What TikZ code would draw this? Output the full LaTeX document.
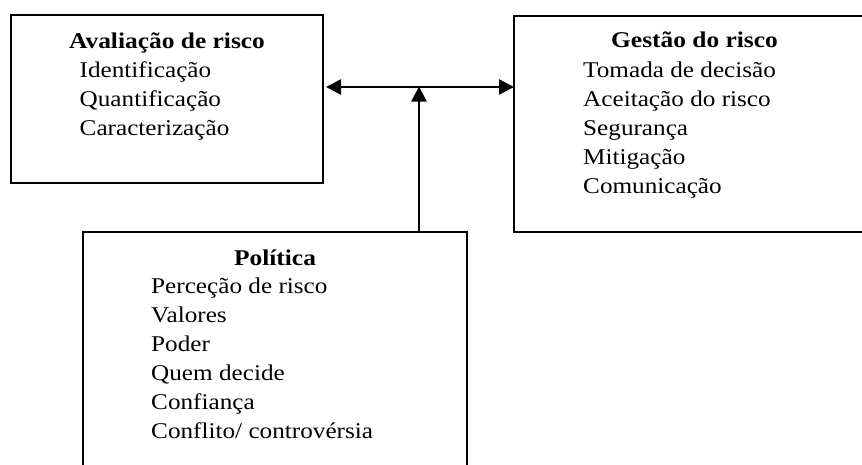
\documentclass[tikz,border=0pt]{standalone}
\usepackage{fontspec}
\setmainfont{Liberation Serif}
\usetikzlibrary{arrows.meta}
\newcommand\wide[1]{\scalebox{1.12}[1]{#1}}
\newcommand\widet[1]{\scalebox{1.13}[1]{#1}}
\newcommand\diagfont{\fontsize{22.5}{29}\selectfont}
\tikzset{
  box/.style={draw=black, line width=1.5pt, rectangle, inner sep=0pt, outer sep=0pt},
  title/.style={anchor=base, inner sep=0pt, font=\diagfont\bfseries},
  item/.style={anchor=base west, inner sep=0pt, font=\diagfont},
  conn/.style={line width=2.6pt, black},
  tip/.style={-{Triangle[length=15pt,width=15pt]}},
}
\begin{document}
\begin{tikzpicture}[x=1pt,y=-1pt]
\useasboundingbox (0,0) rectangle (862,464);
\fill[white] (0,0) rectangle (862,464);
\clip (0,0) rectangle (862,464);

% boxes
\node[box, minimum width=312pt, minimum height=168pt] (aval) at (167,99) {};
\node[box, minimum width=361pt, minimum height=216pt] (gest) at (694.5,124) {};
\node[box, minimum width=384pt, minimum height=260pt] (polit) at (275,362) {};

% titles
\node[title] (avalT) at (aval.center |- 0,48) {\widet{Avaliação de risco}};
\node[title] (gestT) at (gest.center |- 0,47) {\widet{Gestão do risco}};
\node[title] (politT) at (polit.center |- 0,265) {\widet{Política}};

% items
\foreach \t [count=\i] in {Identificação, Quantificação, Caracterização}
  \node[item] (avalI\i) at (79.5, 77+29*\i-29) {\wide{\t}};
\foreach \t [count=\i] in {Tomada de decisão, Aceitação do risco, Segurança, Mitigação, Comunicação}
  \node[item] (gestI\i) at (583, 77+29*\i-29) {\wide{\t}};
\foreach \t [count=\i] in {Perceção de risco, Valores, Poder, Quem decide, Confiança, Conflito/ controvérsia}
  \node[item] (politI\i) at (151, 293+29*\i-29) {\wide{\t}};

% connectors
\coordinate (junc) at (419,87);
\draw[conn, {Triangle[length=15pt,width=15pt]}-{Triangle[length=15pt,width=15pt]}, shorten <=3pt]
  (aval.east |- junc) -- (gest.west |- junc);
\draw[conn, tip, shorten >=-0.5pt] (polit.north -| junc) -- (junc);
\end{tikzpicture}
\end{document}
